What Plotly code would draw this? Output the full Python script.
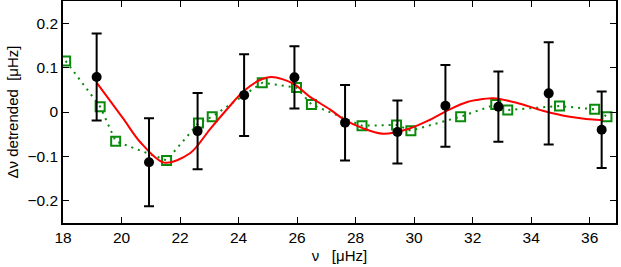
import plotly.graph_objects as go

# Black measurements with error bars
obs_x = [19.15, 20.94, 22.60, 24.19, 25.91, 27.64, 29.43, 31.07, 32.88, 34.60, 36.41]
obs_y = [0.079, -0.113, -0.043, 0.038, 0.078, -0.024, -0.045, 0.014, 0.012, 0.042, -0.040]
obs_err = [0.098, 0.099, 0.086, 0.092, 0.070, 0.085, 0.071, 0.092, 0.079, 0.115, 0.086]

# Green open squares (dotted)
sq_x = [18.09, 19.27, 19.80, 21.54, 22.63, 23.10, 24.81, 25.98, 26.49, 28.22, 29.40,
        29.89, 31.59, 32.79, 33.20, 34.97, 36.17, 36.59]
sq_y = [0.115, 0.012, -0.066, -0.109, -0.025, -0.0105, 0.066, 0.055, 0.017, -0.031,
        -0.029, -0.042, -0.0105, 0.017, 0.0045, 0.0135, 0.006, -0.0105]

# Red fitted curve
fit_x = [19.15, 20.06, 20.63, 21.45, 22.34, 23.02, 23.59, 24.16, 24.73, 25.13, 25.87,
         26.44, 27.12, 27.63, 28.26, 28.94, 29.85, 30.53, 31.22, 31.84, 32.13, 32.70,
         33.50, 34.40, 35.32, 36.34, 36.45]
fit_y = [0.066, -0.015, -0.067, -0.114, -0.093, -0.039, 0.005, 0.046, 0.072, 0.079, 0.064,
         0.034, 0.006, -0.018, -0.037, -0.049, -0.037, -0.018, 0.006, 0.023, 0.027, 0.031,
         0.021, 0.003, -0.0105, -0.018, -0.018]

x_ticks = [18, 20, 22, 24, 26, 28, 30, 32, 34, 36]
y_ticks = [-0.2, -0.1, 0, 0.1, 0.2]

GREEN = "#0a8a0a"
TICKFONT = dict(family="Liberation Sans, Arial, sans-serif", size=15.5, color="black")
TITLEFONT = dict(family="Liberation Sans, Arial, sans-serif", size=15, color="black")

fig = go.Figure()
fig.add_trace(go.Scatter(
    x=sq_x, y=sq_y, mode="lines+markers",
    line=dict(color=GREEN, width=2, dash="2px,5px"),
    marker=dict(symbol="square-open", size=9, color=GREEN, line=dict(width=2, color=GREEN)),
    showlegend=False, hoverinfo="skip"))
fig.add_trace(go.Scatter(
    x=fit_x, y=fit_y, mode="lines",
    line=dict(color="#ff0000", width=2, shape="spline", smoothing=0.9),
    showlegend=False, hoverinfo="skip"))
fig.add_trace(go.Scatter(
    x=obs_x, y=obs_y, mode="markers",
    marker=dict(symbol="circle", size=10, color="black"),
    error_y=dict(type="data", array=obs_err, visible=True, color="black", thickness=2, width=5),
    showlegend=False, hoverinfo="skip"))

axis_common = dict(
    showgrid=False, zeroline=False, showline=True, linecolor="black", linewidth=1.5,
    mirror="ticks", ticks="inside", ticklen=6, tickwidth=1.2, tickcolor="black",
    tickfont=TICKFONT,
)
fig.update_xaxes(range=[18, 36.9], tickvals=x_ticks, ticktext=[str(v) for v in x_ticks],
                 title=dict(text="ν   [μHz]", standoff=5, font=TITLEFONT),
                 **axis_common)
fig.update_yaxes(range=[-0.25, 0.25], tickvals=y_ticks,
                 ticktext=["−0.2", "−0.1", "0", "0.1", "0.2"],
                 title=dict(text="Δν detrended  [μHz]", standoff=5, font=TITLEFONT),
                 **axis_common)
fig.update_layout(
    width=621, height=267,
    margin=dict(l=63, r=5, t=1, b=44, autoexpand=False),
    plot_bgcolor="white", paper_bgcolor="white",
)
fig.write_html("out.html", config={"displayModeBar": False},
               post_script="document.body.style.margin='0';document.body.style.overflow='hidden';")
